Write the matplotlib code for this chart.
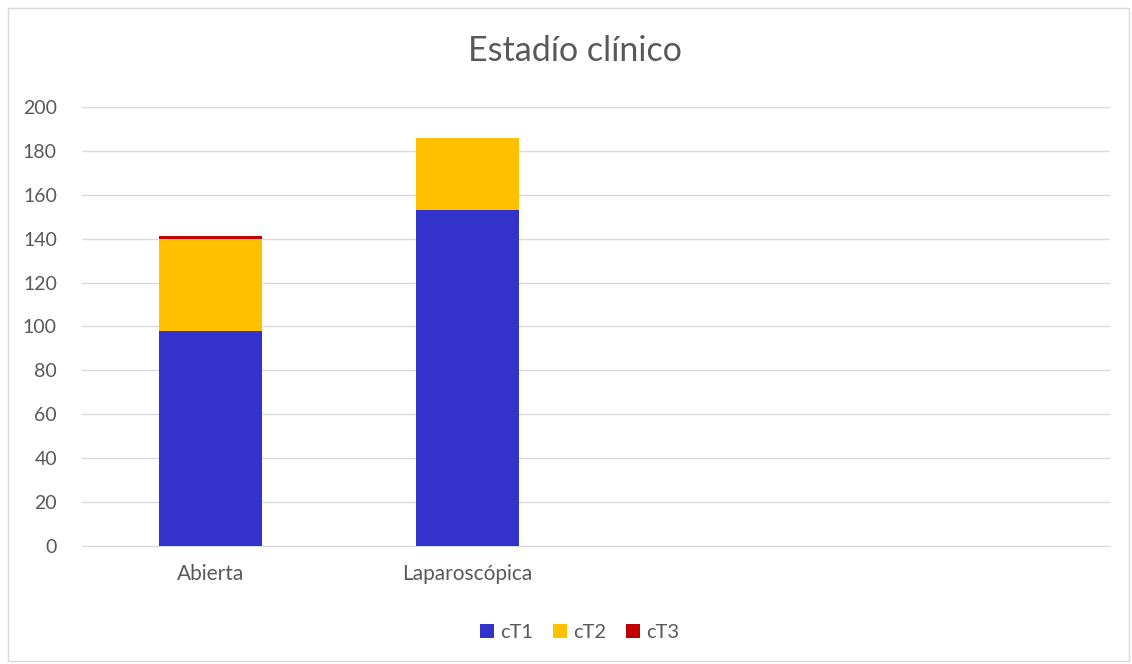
import matplotlib
matplotlib.use("Agg")
import matplotlib.pyplot as plt
from matplotlib.patches import Rectangle
import numpy as np

# Datos: estadio clínico por tipo de cirugía
categorias = ["Abierta", "Laparoscópica", "", ""]
series = ["cT1", "cT2", "cT3"]
ct1 = [98, 153, 0, 0]
ct2 = [42, 33, 0, 0]
ct3 = [1, 0, 0, 0]
colores = ["#3333cc", "#ffc000", "#c00000"]

plt.rcParams["font.family"] = ["Lato", "DejaVu Sans"]
texto = "#595959"

fig = plt.figure(figsize=(11.32, 6.64), dpi=100)
ax = fig.add_axes([0.0724, 0.1777, 0.9082, 0.6612])

x = np.arange(len(categorias))
ancho = 0.4
base = np.zeros(len(categorias))
for nombre, valores, color in zip(series, [ct1, ct2, ct3], colores):
    ax.bar(x, valores, ancho, bottom=base, color=color, label=nombre, zorder=3)
    base += np.array(valores)

ax.set_xlim(-0.5, len(categorias) - 0.5)
ax.set_ylim(0, 200)
ax.set_yticks(range(0, 201, 20))
ax.set_xticks(x)
ax.set_xticklabels(categorias)
ax.tick_params(axis="both", length=0, colors=texto)
ax.tick_params(axis="y", pad=18, labelsize=14)
ax.tick_params(axis="x", pad=13, labelsize=15)
ax.grid(axis="y", color="#d9d9d9", linewidth=1, zorder=0)
for lado in ["top", "right", "left"]:
    ax.spines[lado].set_visible(False)
ax.spines["bottom"].set_color("#d9d9d9")

fig.suptitle("Estadío clínico", x=0.508, y=0.948, fontsize=24.5, color=texto)

leg = fig.legend(loc="center", bbox_to_anchor=(0.512, 0.048), ncol=3,
                 frameon=False, fontsize=14.5, handlelength=0.7,
                 handleheight=0.7, handletextpad=0.3, columnspacing=1.0)
for t in leg.get_texts():
    t.set_color(texto)

# marco del gráfico
fig.patches.append(Rectangle((0.007, 0.004), 0.99, 0.984, transform=fig.transFigure,
                             fill=False, edgecolor="#d9d9d9", linewidth=1))

fig.savefig("out.png", dpi=100)
